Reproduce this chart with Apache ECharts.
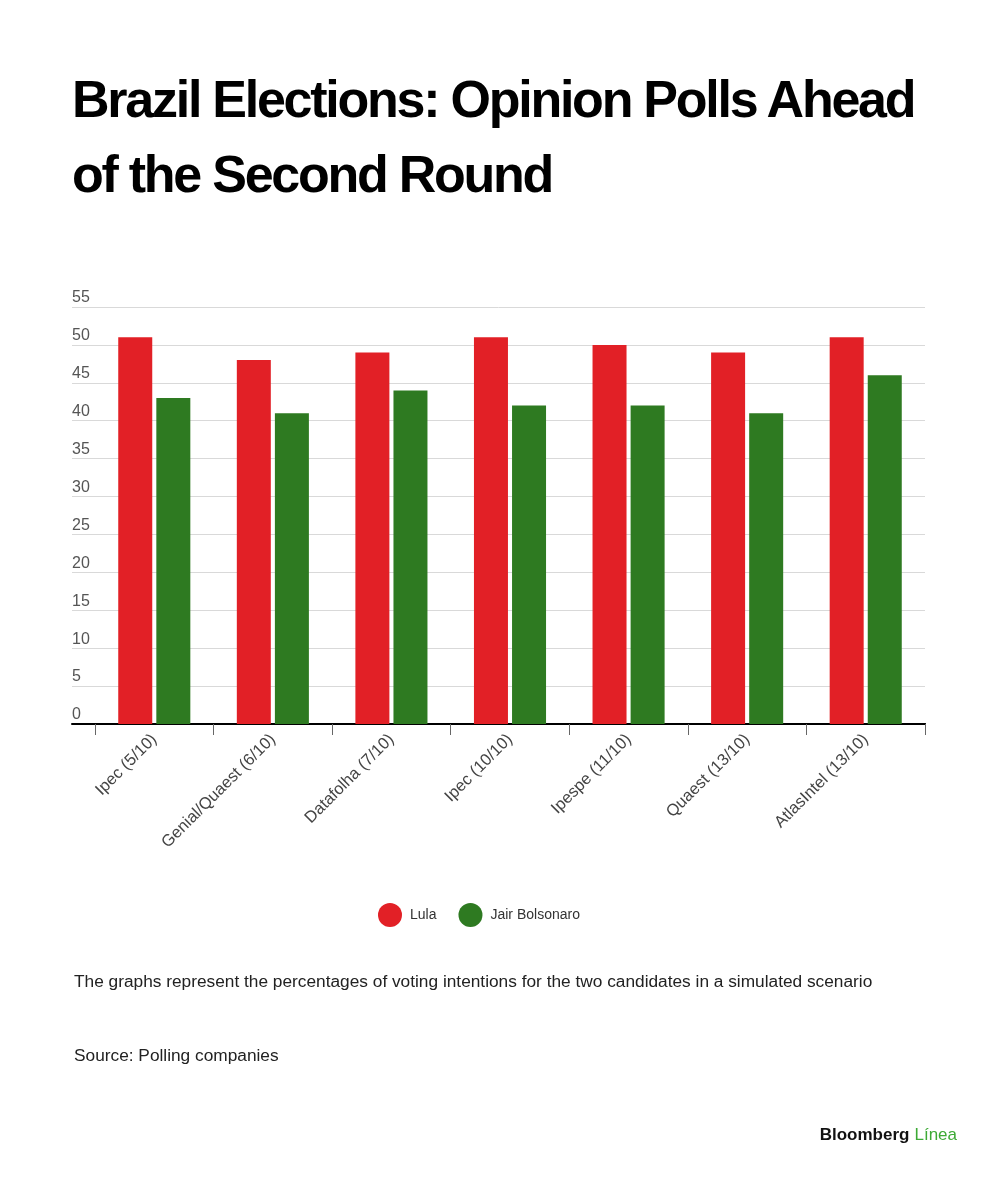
<!DOCTYPE html>
<html>
<head>
<meta charset="utf-8">
<script src="https://cdn.jsdelivr.net/npm/echarts@6/dist/echarts.min.js"></script>
<style>
  html, body { margin: 0; padding: 0; background: #fff; }
  #wrap { position: relative; width: 1000px; height: 1177px; }
  #title {
    position: absolute; left: 72px; top: 62px; width: 920px;
    font-family: "Liberation Sans", Arial, sans-serif; font-weight: bold;
    font-size: 52px; line-height: 75px; letter-spacing: -2.25px; color: #000;
  }
  #chart { position: absolute; left: 0; top: 0; width: 1000px; height: 1177px; }
</style>
</head>
<body>
<div id="wrap">
  <div id="chart"></div>
  <div id="title">Brazil Elections: Opinion Polls Ahead<br>of the Second Round</div>
</div>
<script>
// poll names
var polls = ['Ipec (5/10)', 'Genial/Quaest (6/10)', 'Datafolha (7/10)', 'Ipec (10/10)',
  'Ipespe (11/10)', 'Quaest (13/10)', 'AtlasIntel (13/10)'];
// voting intention, %
var lula = [51, 48, 49, 51, 50, 49, 51];
var bolsonaro = [43, 41, 44, 42, 42, 41, 46];

var chart = echarts.init(document.getElementById('chart'), null, { renderer: 'canvas' });
var font = '"Liberation Sans", Arial, sans-serif';

var option = {
  backgroundColor: '#fff',
  animation: false,
  color: ['#E22026', '#2E7A21'],
  title: [
    {
      text: 'The graphs represent the percentages of voting intentions for the two candidates in a simulated scenario',
      left: 74, top: 974, padding: 0,
      textStyle: { fontFamily: font, fontSize: 17.3, fontWeight: 'normal', color: '#222' }
    },
    {
      text: 'Source: Polling companies',
      left: 74, top: 1048, padding: 0,
      textStyle: { fontFamily: font, fontSize: 17.3, fontWeight: 'normal', color: '#222' }
    },
    {
      text: '{a|Bloomberg} {b|Línea}',
      right: 43, top: 1126, padding: 0,
      textStyle: {
        rich: {
          a: { fontFamily: font, fontSize: 17, fontWeight: 'bold', color: '#111' },
          b: { fontFamily: font, fontSize: 17, fontWeight: 'normal', color: '#3DAA35' }
        }
      }
    }
  ],
  legend: {
    data: ['Lula', 'Jair Bolsonaro'],
    left: 373, top: 898,
    icon: 'circle', itemWidth: 24, itemHeight: 24, itemGap: 22,
    textStyle: { fontFamily: font, fontSize: 14, color: '#333', padding: [0, 0, 0, 3] }
  },
  grid: [
    { left: 72, right: 75, top: 307, bottom: 453 },  // frame: gridlines + y labels
    { left: 95, right: 75, top: 307, bottom: 453 }   // bars
  ],
  xAxis: [
    {
      gridIndex: 0, type: 'value', min: 0, max: 1,
      axisLine: { show: true, lineStyle: { color: '#000', width: 2 } },
      axisTick: { show: false }, axisLabel: { show: false }, splitLine: { show: false }
    },
    {
      gridIndex: 1, type: 'category', data: polls,
      axisLine: { show: true, lineStyle: { color: '#000', width: 2 } },
      axisTick: { show: true, length: 11, lineStyle: { color: '#666', width: 1 } },
      axisLabel: { rotate: 45, margin: 13, fontFamily: font, fontSize: 16.5, color: '#444' }
    }
  ],
  yAxis: [
    {
      gridIndex: 0, type: 'value', min: 0, max: 55, interval: 5,
      axisLine: { show: false }, axisTick: { show: false },
      splitLine: { lineStyle: { color: '#d9d9d9', width: 1 } },
      axisLabel: {
        inside: true, margin: 0, align: 'left', verticalAlign: 'bottom',
        padding: [0, 0, 1, 0],
        fontFamily: font, fontSize: 16, color: '#555'
      }
    },
    {
      gridIndex: 1, type: 'value', min: 0, max: 55, interval: 5,
      show: false
    }
  ],
  series: [
    {
      name: 'Lula', type: 'bar', xAxisIndex: 1, yAxisIndex: 1,
      data: lula, barWidth: 34, barGap: '12%'
    },
    {
      name: 'Jair Bolsonaro', type: 'bar', xAxisIndex: 1, yAxisIndex: 1,
      data: bolsonaro, barWidth: 34, barGap: '12%'
    }
  ]
};

chart.setOption(option);
</script>
</body>
</html>
